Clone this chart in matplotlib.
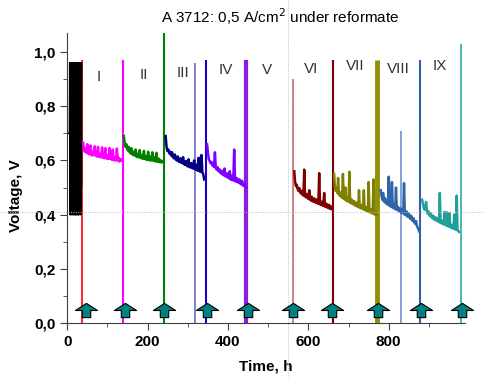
import numpy as np
import matplotlib.pyplot as plt
from matplotlib.path import Path
from matplotlib.lines import Line2D
from matplotlib.ticker import FuncFormatter, MultipleLocator
from matplotlib.transforms import blended_transform_factory

plt.rcParams['font.family'] = ['Liberation Sans', 'DejaVu Sans']

# start-up phase (black)
black_v = [0.70, 0.70, 0.96, 0.40, 0.96, 0.41, 0.95, 0.40, 0.96, 0.42, 0.96, 0.40, 0.95,
           0.41, 0.96, 0.40, 0.96, 0.43, 0.96, 0.40, 0.95, 0.40, 0.96, 0.41, 0.96, 0.40,
           0.96, 0.42, 0.95, 0.40, 0.96, 0.40, 0.96, 0.41, 0.96, 0.45, 0.96, 0.40, 0.96,
           0.50, 0.96]
black_t = np.r_[0, np.linspace(6, 36, len(black_v) - 1)]

# voltage segments: (start h, end h, colour, values)
v_I = [0.665, 0.640, 0.632, 0.645, 0.628, 0.660, 0.625, 0.638, 0.622, 0.655, 0.624, 0.618,
       0.632, 0.620, 0.652, 0.618, 0.626, 0.614, 0.650, 0.616, 0.612, 0.624, 0.612, 0.648,
       0.610, 0.620, 0.608, 0.645, 0.610, 0.606, 0.618, 0.606, 0.646, 0.606, 0.614, 0.602,
       0.640, 0.604, 0.600, 0.612, 0.600, 0.644, 0.600, 0.610, 0.596, 0.606, 0.598, 0.602]
v_II = [0.690, 0.665, 0.650, 0.660, 0.642, 0.636, 0.650, 0.630, 0.626, 0.645, 0.624, 0.620,
        0.632, 0.618, 0.640, 0.616, 0.612, 0.625, 0.612, 0.638, 0.610, 0.608, 0.620, 0.606,
        0.635, 0.606, 0.604, 0.616, 0.602, 0.632, 0.603, 0.600, 0.614, 0.600, 0.630, 0.600,
        0.598, 0.612, 0.596, 0.628, 0.597, 0.594, 0.606, 0.594, 0.600, 0.592, 0.598, 0.595]
v_III = [0.690, 0.650, 0.635, 0.640, 0.626, 0.632, 0.618, 0.630, 0.612, 0.608, 0.622, 0.604,
         0.600, 0.615, 0.598, 0.594, 0.608, 0.592, 0.590, 0.612, 0.586, 0.584, 0.598, 0.582,
         0.578, 0.604, 0.576, 0.574, 0.590, 0.572, 0.570, 0.600, 0.568, 0.566, 0.585, 0.562,
         0.610, 0.560, 0.558, 0.620, 0.556, 0.548, 0.530]
v_IV = [0.660, 0.630, 0.605, 0.598, 0.590, 0.595, 0.582, 0.588, 0.576, 0.630, 0.572, 0.566,
        0.575, 0.560, 0.568, 0.556, 0.552, 0.562, 0.548, 0.545, 0.570, 0.542, 0.540, 0.552,
        0.536, 0.534, 0.560, 0.530, 0.528, 0.545, 0.526, 0.640, 0.524, 0.522, 0.535, 0.520,
        0.518, 0.530, 0.514, 0.512, 0.525, 0.508, 0.506, 0.515, 0.502, 0.500]
v_VI = [0.560, 0.520, 0.505, 0.510, 0.495, 0.488, 0.498, 0.482, 0.478, 0.488, 0.474, 0.470,
        0.566, 0.468, 0.464, 0.476, 0.462, 0.458, 0.490, 0.456, 0.452, 0.466, 0.450, 0.448,
        0.460, 0.446, 0.444, 0.456, 0.442, 0.440, 0.553, 0.438, 0.436, 0.448, 0.434, 0.432,
        0.480, 0.430, 0.428, 0.440, 0.426, 0.424, 0.436, 0.422, 0.420, 0.430, 0.424]
v_VII = [0.550, 0.505, 0.488, 0.496, 0.480, 0.535, 0.474, 0.470, 0.482, 0.466, 0.462, 0.550,
         0.460, 0.456, 0.500, 0.452, 0.450, 0.462, 0.448, 0.558, 0.444, 0.442, 0.456, 0.440,
         0.438, 0.450, 0.434, 0.432, 0.444, 0.430, 0.428, 0.490, 0.426, 0.424, 0.436, 0.422,
         0.420, 0.490, 0.418, 0.416, 0.428, 0.414, 0.412, 0.520, 0.410, 0.408, 0.420, 0.406,
         0.404, 0.530, 0.402, 0.400, 0.412, 0.398]
v_VIII = [0.490, 0.470, 0.455, 0.480, 0.448, 0.462, 0.444, 0.440, 0.455, 0.436, 0.540, 0.432,
          0.446, 0.428, 0.520, 0.426, 0.424, 0.438, 0.420, 0.500, 0.418, 0.430, 0.414, 0.412,
          0.424, 0.408, 0.406, 0.420, 0.404, 0.516, 0.400, 0.398, 0.412, 0.394, 0.392, 0.404,
          0.388, 0.384, 0.396, 0.380, 0.376, 0.386, 0.370, 0.366, 0.376, 0.358, 0.352, 0.345,
          0.338]
v_IX = [0.455, 0.440, 0.425, 0.418, 0.426, 0.447, 0.410, 0.404, 0.412, 0.398, 0.394, 0.404,
        0.390, 0.386, 0.396, 0.382, 0.380, 0.390, 0.378, 0.376, 0.386, 0.372, 0.480, 0.370,
        0.368, 0.378, 0.366, 0.364, 0.410, 0.362, 0.360, 0.408, 0.358, 0.356, 0.405, 0.354,
        0.352, 0.362, 0.350, 0.348, 0.400, 0.346, 0.344, 0.470, 0.342, 0.340, 0.336]

segments = [
    (40, 136, '#ff00ff', v_I),
    (141, 239, '#008000', v_II),
    (245, 341, '#000080', v_III),
    (348, 446, '#8000ff', v_IV),
    (565, 660, '#800000', v_VI),
    (664, 770, '#808000', v_VII),
    (780, 876, '#2e64a8', v_VIII),
    (883, 975, '#20a098', v_IX),
]

# restart spikes (vertical traces)
vline_t = [38, 138, 241, 318, 345, 446, 562, 662, 772, 831, 877, 980]
vline_top = [0.97, 0.97, 1.07, 0.96, 0.97, 0.97, 0.90, 0.97, 0.97, 0.71, 0.97, 1.03]
vline_color = ['#ff0000', '#ff00ff', '#008000', '#6a6ac8', '#1a00c8', '#8a1ee0',
               '#c07070', '#800000', '#909000', '#7090d0', '#3060a8', '#30a8a8']
vline_lw = [1.2, 1.5, 1.5, 1.2, 1.5, 3.0, 1.2, 1.5, 3.5, 1.2, 1.5, 1.2]

arrow_t = [47, 144, 242, 348, 450, 562, 660, 773, 879, 981]
arrow_v = 0.049

labels = ['I', 'II', 'III', 'IV', 'V', 'VI', 'VII', 'VIII', 'IX']
label_t = [78, 190, 287, 395, 496, 608, 716, 823, 927]
label_v = [0.909, 0.915, 0.924, 0.934, 0.934, 0.937, 0.948, 0.937, 0.948]

cross_t = 549
cross_v = 0.41

fig = plt.figure(figsize=(4.83, 3.78), dpi=100)
ax = fig.add_axes([0.139, 0.1455, 0.824, 0.767])

ax.vlines(vline_t, 0, vline_top, colors=vline_color, linewidths=vline_lw)
ax.plot(black_t, black_v, color='black', lw=1.3)
for t0, t1, col, vals in segments:
    ax.plot(np.linspace(t0, t1, len(vals)), vals, color=col, lw=1.8)

arrow = Path([(0, 0.64), (1, 0.0), (0.38, 0.0), (0.38, -0.64), (-0.38, -0.64),
              (-0.38, 0.0), (-1, 0.0), (0, 0.64)], closed=True)
ax.plot(arrow_t, [arrow_v] * len(arrow_t), ls='none', marker=arrow, ms=16,
        mfc='#008080', mec='black', mew=0.8, clip_on=False, zorder=5)

for lab, t, v in zip(labels, label_t, label_v):
    ax.text(t, v, lab, ha='center', va='center', fontsize=11, color='#333333')

# cursor crosshair from the screenshot
ax.add_line(Line2D([cross_t, cross_t], [0, 1], transform=blended_transform_factory(ax.transData, fig.transFigure),
                   color='#bbbbbb', lw=0.7, ls=(0, (1, 1.5)), clip_on=False))
ax.add_line(Line2D([0, 1], [cross_v, cross_v], transform=blended_transform_factory(fig.transFigure, ax.transData),
                   color='#bbbbbb', lw=0.7, ls=(0, (1, 1.5)), clip_on=False))

ax.set_xlim(0, 990)
ax.set_ylim(0, 1.07)
ax.xaxis.set_major_locator(MultipleLocator(200))
ax.xaxis.set_minor_locator(MultipleLocator(100))
ax.yaxis.set_major_locator(MultipleLocator(0.2))
ax.yaxis.set_minor_locator(MultipleLocator(0.1))
ax.yaxis.set_major_formatter(FuncFormatter(lambda v, p: f'{v:.1f}'.replace('.', ',')))
for s in ['top', 'right']:
    ax.spines[s].set_visible(False)
for s in ['left', 'bottom']:
    ax.spines[s].set_color('#404040')
ax.tick_params(which='major', length=5, color='#404040', labelsize=11)
ax.tick_params(which='minor', length=3, color='#404040')
for lb in ax.get_xticklabels() + ax.get_yticklabels():
    lb.set_fontweight('bold')

ax.set_xlabel('Time, h', fontsize=11, fontweight='bold', labelpad=8)
ax.set_ylabel('Voltage, V', fontsize=11, fontweight='bold')
ax.yaxis.set_label_coords(-0.11, 0.44)
fig.text(0.58, 0.955, 'A 3712: 0,5 A/cm$^2$ under reformate', ha='center', va='center', fontsize=11)

plt.savefig('out.png')
